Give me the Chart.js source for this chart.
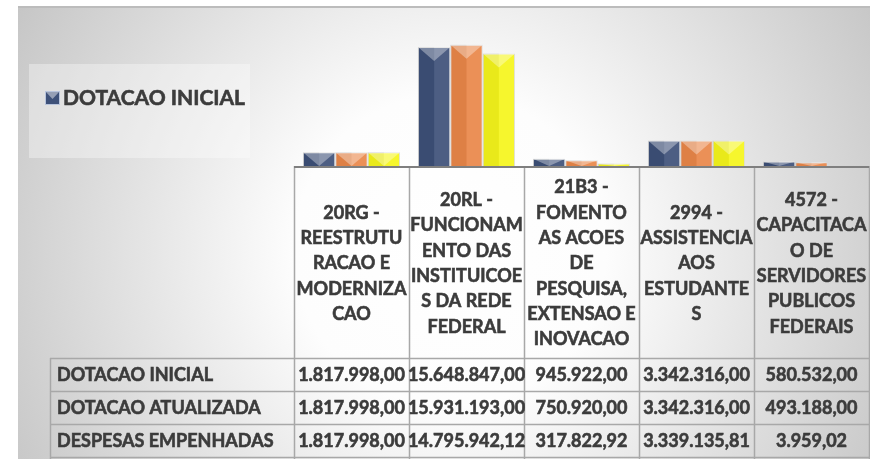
<!DOCTYPE html>
<html>
<head>
<meta charset="utf-8">
<script src="https://cdn.jsdelivr.net/npm/chart.js@4"></script>
<style>
  html, body { margin: 0; padding: 0; background: #fff; }
  canvas { display: block; }
</style>
</head>
<body>
<canvas id="acoesChart" width="870" height="459"></canvas>
<script>
// categorias (quebradas como no Excel)
const categories = [
  ['20RG -', 'REESTRUTU', 'RACAO E', 'MODERNIZA', 'CAO'],
  ['20RL -', 'FUNCIONAM', 'ENTO DAS', 'INSTITUICOE', 'S DA REDE', 'FEDERAL'],
  ['21B3 -', 'FOMENTO', 'AS ACOES', 'DE', 'PESQUISA,', 'EXTENSAO E', 'INOVACAO'],
  ['2994 -', 'ASSISTENCIA', 'AOS', 'ESTUDANTE', 'S'],
  ['4572 -', 'CAPACITACA', 'O DE', 'SERVIDORES', 'PUBLICOS', 'FEDERAIS']
];
const seriesNames = ['DOTACAO INICIAL', 'DOTACAO ATUALIZADA', 'DESPESAS EMPENHADAS'];
const dotacaoInicial = [1817998.00, 15648847.00, 945922.00, 3342316.00, 580532.00];
const dotacaoAtualizada = [1817998.00, 15931193.00, 750920.00, 3342316.00, 493188.00];
const despesasEmpenhadas = [1817998.00, 14795942.12, 317822.92, 3339135.81, 3959.02];
const seriesColors = ['#3e5179', '#ea8749', '#f6f61c'];

const FONT = 'Lato, "Open Sans", sans-serif';
const TEXT = '#3c3c3c';
const GRID = '#a8a8a8';

function fmt(v) {
  const parts = v.toFixed(2).split('.');
  return parts[0].replace(/\B(?=(\d{3})+(?!\d))/g, '.') + ',' + parts[1];
}

// texto um pouco mais "gordo", como o Calibri negrito do Excel
function boldText(ctx, t, x, y) {
  ctx.fillText(t, x, y);
  ctx.strokeText(t, x, y);
}

const excelLook = {
  id: 'excelLook',
  beforeDraw(chart) {
    const ctx = chart.ctx;
    ctx.save();
    ctx.fillStyle = '#fff';
    ctx.fillRect(0, 0, chart.width, chart.height);
    // fundo com gradiente
    const g = ctx.createRadialGradient(450, 250, 0, 450, 250, 520);
    g.addColorStop(0, '#ffffff');
    g.addColorStop(0.3, '#fdfdfd');
    g.addColorStop(1, '#c2c2c2');
    ctx.fillStyle = g;
    ctx.fillRect(18, 6, chart.width - 18, chart.height - 6);
    ctx.strokeStyle = '#bcbcbc';
    ctx.lineWidth = 2;
    ctx.beginPath();
    ctx.moveTo(18, 7);
    ctx.lineTo(chart.width, 7);
    ctx.stroke();

    // caixa da legenda
    ctx.fillStyle = 'rgba(255,255,255,0.35)';
    ctx.fillRect(29, 64, 221, 94);
    ctx.fillStyle = seriesColors[0];
    ctx.fillRect(45, 91, 15, 14);
    ctx.fillStyle = 'rgba(255,255,255,0.45)';
    ctx.beginPath();
    ctx.moveTo(45, 91); ctx.lineTo(60, 91); ctx.lineTo(52.5, 99);
    ctx.closePath(); ctx.fill();
    ctx.strokeStyle = '#b8c4dc';
    ctx.lineWidth = 1;
    ctx.strokeRect(45.5, 91.5, 14, 13);
    ctx.fillStyle = TEXT;
    ctx.strokeStyle = TEXT;
    ctx.lineWidth = 0.6;
    ctx.font = 'bold 21px ' + FONT;
    ctx.textBaseline = 'middle';
    ctx.textAlign = 'left';
    boldText(ctx, chart.data.datasets[0].label, 63, 98);
    ctx.restore();
  },
  afterDatasetsDraw(chart) {
    const ctx = chart.ctx;
    ctx.save();
    // chanfro nas barras
    chart.data.datasets.forEach((ds, i) => {
      chart.getDatasetMeta(i).data.forEach(bar => {
        const h = bar.base - bar.y;
        if (h < 1) return;
        const l = bar.x - bar.width / 2, r = bar.x + bar.width / 2;
        ctx.fillStyle = 'rgba(255,255,255,0.08)';
        ctx.fillRect(bar.x, bar.y, bar.width / 2, h);
        ctx.fillStyle = 'rgba(0,0,0,0.05)';
        ctx.fillRect(l, bar.y, bar.width / 2, h);
        const d = Math.min(14, h);
        ctx.fillStyle = 'rgba(255,255,255,0.35)';
        ctx.beginPath();
        ctx.moveTo(l, bar.y); ctx.lineTo(r, bar.y);
        ctx.lineTo(bar.x, bar.y + d);
        ctx.closePath(); ctx.fill();
      });
    });

    // tabela de dados
    const x = chart.scales.x;
    const step = x.getPixelForValue(1) - x.getPixelForValue(0);
    const top = chart.chartArea.bottom;
    const rowTops = [358, 391, 424, 457];
    const left = x.getPixelForValue(0) - step / 2;
    const right = x.getPixelForValue(categories.length - 1) + step / 2;

    ctx.strokeStyle = GRID;
    ctx.lineWidth = 1.5;
    for (let i = 0; i <= categories.length; i++) {
      const bx = Math.round(left + i * step) + 0.5;
      ctx.beginPath(); ctx.moveTo(bx, top); ctx.lineTo(bx, chart.height); ctx.stroke();
    }
    ctx.beginPath(); ctx.moveTo(50.5, rowTops[0]); ctx.lineTo(50.5, chart.height); ctx.stroke();
    rowTops.forEach(y => {
      ctx.beginPath(); ctx.moveTo(50, y + 0.5); ctx.lineTo(right, y + 0.5); ctx.stroke();
    });
    ctx.strokeStyle = '#7f7f7f';
    ctx.lineWidth = 2;
    ctx.beginPath(); ctx.moveTo(left, top + 1); ctx.lineTo(right, top + 1); ctx.stroke();

    ctx.fillStyle = TEXT;
    ctx.strokeStyle = TEXT;
    ctx.lineWidth = 0.6;
    ctx.font = 'bold 18px ' + FONT;
    ctx.textBaseline = 'middle';
    ctx.textAlign = 'center';
    const lh = 25.3;
    categories.forEach((lines, i) => {
      const cx = x.getPixelForValue(i);
      const y0 = 263.5 - (lines.length - 1) * lh / 2;
      lines.forEach((t, k) => boldText(ctx, t, cx, y0 + k * lh));
    });
    chart.data.datasets.forEach((ds, r) => {
      const cy = (rowTops[r] + rowTops[r + 1]) / 2 + 1;
      ctx.textAlign = 'left';
      boldText(ctx, ds.label, 57, cy);
      ctx.textAlign = 'center';
      ds.data.forEach((v, i) => boldText(ctx, fmt(v), x.getPixelForValue(i), cy));
    });
    ctx.restore();
  }
};

new Chart(document.getElementById('acoesChart'), {
  type: 'bar',
  data: {
    labels: categories,
    datasets: [
      { label: seriesNames[0], data: dotacaoInicial, backgroundColor: seriesColors[0] },
      { label: seriesNames[1], data: dotacaoAtualizada, backgroundColor: seriesColors[1] },
      { label: seriesNames[2], data: despesasEmpenhadas, backgroundColor: seriesColors[2] }
    ]
  },
  options: {
    responsive: false,
    animation: false,
    devicePixelRatio: 1,
    layout: { padding: { left: 294, right: 1, top: 29, bottom: 293 } },
    datasets: {
      bar: {
        categoryPercentage: 0.845,
        barPercentage: 1.0,
        borderColor: 'rgba(215,215,215,0.9)',
        borderWidth: 1
      }
    },
    scales: {
      x: { display: false },
      y: { display: false, min: 0, max: 18000000 }
    },
    plugins: {
      legend: { display: false },
      tooltip: { enabled: false }
    }
  },
  plugins: [excelLook]
});
</script>
</body>
</html>
